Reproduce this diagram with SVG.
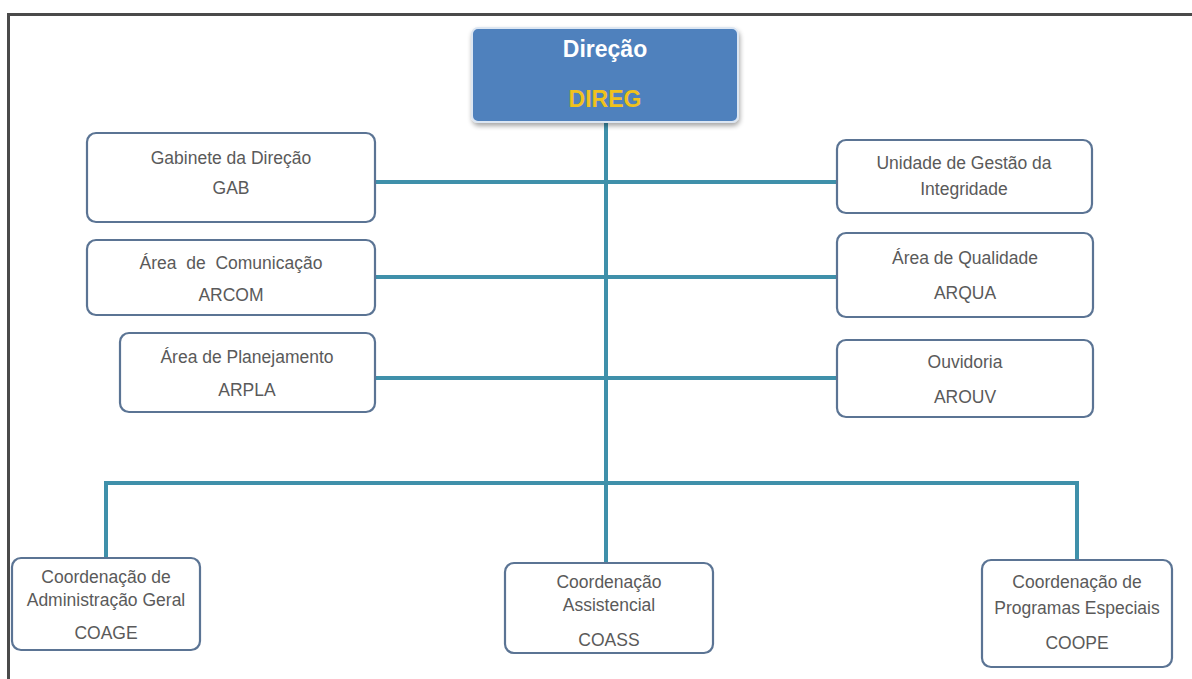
<svg xmlns="http://www.w3.org/2000/svg" width="1192" height="679" viewBox="0 0 1192 679">
<style>
.box{fill:#ffffff;stroke:#5b7494;stroke-width:2.2}
.t{font-family:"Liberation Sans",Arial,sans-serif;font-size:17.5px;fill:#5a5a5a;text-anchor:middle}
.h{font-family:"Liberation Sans",Arial,sans-serif;font-size:23px;font-weight:bold;text-anchor:middle}
.c{stroke:#3f90aa;stroke-width:4;fill:none}
.frame{stroke:#4a4a4a;stroke-width:3;fill:none}
</style>
<defs>
<filter id="sh" x="-10%" y="-10%" width="130%" height="140%">
<feGaussianBlur in="SourceAlpha" stdDeviation="2.5"/>
<feOffset dx="1" dy="3" result="o"/>
<feComponentTransfer><feFuncA type="linear" slope="0.35"/></feComponentTransfer>
<feMerge><feMergeNode/><feMergeNode in="SourceGraphic"/></feMerge>
</filter>
</defs>
<rect width="1192" height="679" fill="#ffffff"/>
<path class="frame" d="M8.5,679 V14.5 H1192"/>
<g id="connectors">
<path class="c" d="M606,122 V563"/>
<path class="c" d="M375,182 H837"/>
<path class="c" d="M375,277 H837"/>
<path class="c" d="M375,378 H837"/>
<path class="c" d="M106,558 V483 H1077 V560"/>
</g>
<g id="direg">
<rect x="472" y="28" width="266" height="94" rx="6" fill="#4f81bd" stroke="#dce6f2" stroke-width="2" filter="url(#sh)"/>
<text class="h" x="605" y="57" fill="#ffffff">Direção</text>
<text class="h" x="605" y="107" fill="#f0c21c">DIREG</text>
</g>
<g id="gab">
<rect class="box" x="87" y="133" width="288" height="89" rx="9"/>
<text class="t" x="231" y="164">Gabinete da Direção</text>
<text class="t" x="231" y="194">GAB</text>
</g>
<g id="ugi">
<rect class="box" x="837" y="140" width="255" height="73" rx="9"/>
<text class="t" x="964" y="169">Unidade de Gestão da</text>
<text class="t" x="964" y="195">Integridade</text>
</g>
<g id="arcom">
<rect class="box" x="87" y="240" width="288" height="75" rx="9"/>
<text class="t" x="231" y="269" xml:space="preserve">Área  de  Comunicação</text>
<text class="t" x="231" y="301">ARCOM</text>
</g>
<g id="arqua">
<rect class="box" x="837" y="233" width="256" height="84" rx="9"/>
<text class="t" x="965" y="264">Área de Qualidade</text>
<text class="t" x="965" y="299">ARQUA</text>
</g>
<g id="arpla">
<rect class="box" x="120" y="333" width="255" height="79" rx="9"/>
<text class="t" x="247" y="363">Área de Planejamento</text>
<text class="t" x="247" y="396">ARPLA</text>
</g>
<g id="arouv">
<rect class="box" x="837" y="340" width="256" height="77" rx="9"/>
<text class="t" x="965" y="368">Ouvidoria</text>
<text class="t" x="965" y="403">AROUV</text>
</g>
<g id="coage">
<rect class="box" x="12" y="558" width="188" height="92" rx="9"/>
<text class="t" x="106" y="583">Coordenação de</text>
<text class="t" x="106" y="606">Administração Geral</text>
<text class="t" x="106" y="639">COAGE</text>
</g>
<g id="coass">
<rect class="box" x="505" y="563" width="208" height="90" rx="9"/>
<text class="t" x="609" y="588">Coordenação</text>
<text class="t" x="609" y="611">Assistencial</text>
<text class="t" x="609" y="646">COASS</text>
</g>
<g id="coope">
<rect class="box" x="982" y="560" width="190" height="107" rx="9"/>
<text class="t" x="1077" y="588">Coordenação de</text>
<text class="t" x="1077" y="614">Programas Especiais</text>
<text class="t" x="1077" y="649">COOPE</text>
</g>
</svg>
